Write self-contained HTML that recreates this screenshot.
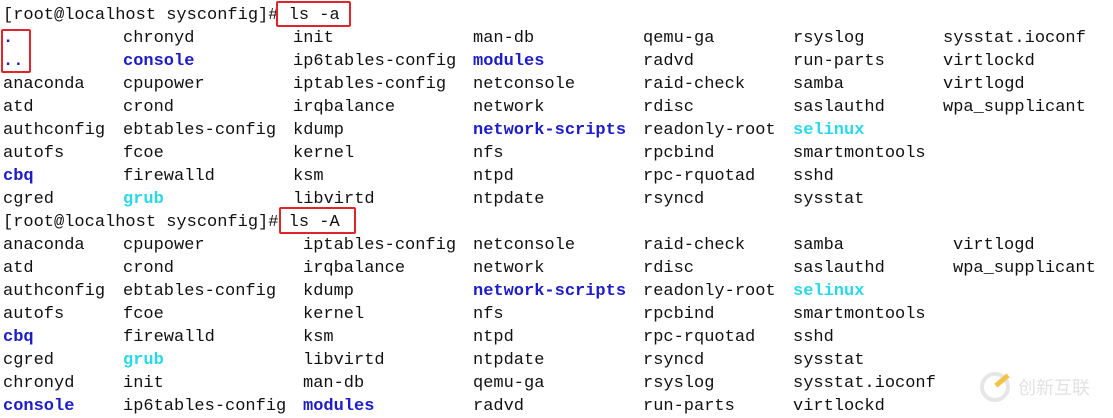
<!DOCTYPE html>
<html><head><meta charset="utf-8"><style>
body{margin:0;width:1113px;height:417px;background:#fff;overflow:hidden;position:relative;font-family:"Liberation Mono",monospace;font-size:17px;color:#111}
.r{position:absolute;left:0;height:23px;line-height:23px;white-space:pre;margin-top:2px}
.r span{position:absolute;top:0}
.b{color:#1c1cc8;font-weight:bold}
.c{color:#2ad8e8;font-weight:bold}
.box{position:absolute;border:2px solid #e0252a;border-radius:2px}
</style></head><body>
<div class="r" style="top:2px"><span style="left:3px">[root@localhost sysconfig]# ls -a</span></div>
<div class="r" style="top:25px"><span class="b" style="left:3px">.</span><span style="left:123px">chronyd</span><span style="left:293px">init</span><span style="left:473px">man-db</span><span style="left:643px">qemu-ga</span><span style="left:793px">rsyslog</span><span style="left:943px">sysstat.ioconf</span></div>
<div class="r" style="top:48px"><span class="b" style="left:3px">..</span><span class="b" style="left:123px">console</span><span style="left:293px">ip6tables-config</span><span class="b" style="left:473px">modules</span><span style="left:643px">radvd</span><span style="left:793px">run-parts</span><span style="left:943px">virtlockd</span></div>
<div class="r" style="top:71px"><span style="left:3px">anaconda</span><span style="left:123px">cpupower</span><span style="left:293px">iptables-config</span><span style="left:473px">netconsole</span><span style="left:643px">raid-check</span><span style="left:793px">samba</span><span style="left:943px">virtlogd</span></div>
<div class="r" style="top:94px"><span style="left:3px">atd</span><span style="left:123px">crond</span><span style="left:293px">irqbalance</span><span style="left:473px">network</span><span style="left:643px">rdisc</span><span style="left:793px">saslauthd</span><span style="left:943px">wpa_supplicant</span></div>
<div class="r" style="top:117px"><span style="left:3px">authconfig</span><span style="left:123px">ebtables-config</span><span style="left:293px">kdump</span><span class="b" style="left:473px">network-scripts</span><span style="left:643px">readonly-root</span><span class="c" style="left:793px">selinux</span></div>
<div class="r" style="top:140px"><span style="left:3px">autofs</span><span style="left:123px">fcoe</span><span style="left:293px">kernel</span><span style="left:473px">nfs</span><span style="left:643px">rpcbind</span><span style="left:793px">smartmontools</span></div>
<div class="r" style="top:163px"><span class="b" style="left:3px">cbq</span><span style="left:123px">firewalld</span><span style="left:293px">ksm</span><span style="left:473px">ntpd</span><span style="left:643px">rpc-rquotad</span><span style="left:793px">sshd</span></div>
<div class="r" style="top:186px"><span style="left:3px">cgred</span><span class="c" style="left:123px">grub</span><span style="left:293px">libvirtd</span><span style="left:473px">ntpdate</span><span style="left:643px">rsyncd</span><span style="left:793px">sysstat</span></div>
<div class="r" style="top:209px"><span style="left:3px">[root@localhost sysconfig]# ls -A</span></div>
<div class="r" style="top:232px"><span style="left:3px">anaconda</span><span style="left:123px">cpupower</span><span style="left:303px">iptables-config</span><span style="left:473px">netconsole</span><span style="left:643px">raid-check</span><span style="left:793px">samba</span><span style="left:953px">virtlogd</span></div>
<div class="r" style="top:255px"><span style="left:3px">atd</span><span style="left:123px">crond</span><span style="left:303px">irqbalance</span><span style="left:473px">network</span><span style="left:643px">rdisc</span><span style="left:793px">saslauthd</span><span style="left:953px">wpa_supplicant</span></div>
<div class="r" style="top:278px"><span style="left:3px">authconfig</span><span style="left:123px">ebtables-config</span><span style="left:303px">kdump</span><span class="b" style="left:473px">network-scripts</span><span style="left:643px">readonly-root</span><span class="c" style="left:793px">selinux</span></div>
<div class="r" style="top:301px"><span style="left:3px">autofs</span><span style="left:123px">fcoe</span><span style="left:303px">kernel</span><span style="left:473px">nfs</span><span style="left:643px">rpcbind</span><span style="left:793px">smartmontools</span></div>
<div class="r" style="top:324px"><span class="b" style="left:3px">cbq</span><span style="left:123px">firewalld</span><span style="left:303px">ksm</span><span style="left:473px">ntpd</span><span style="left:643px">rpc-rquotad</span><span style="left:793px">sshd</span></div>
<div class="r" style="top:347px"><span style="left:3px">cgred</span><span class="c" style="left:123px">grub</span><span style="left:303px">libvirtd</span><span style="left:473px">ntpdate</span><span style="left:643px">rsyncd</span><span style="left:793px">sysstat</span></div>
<div class="r" style="top:370px"><span style="left:3px">chronyd</span><span style="left:123px">init</span><span style="left:303px">man-db</span><span style="left:473px">qemu-ga</span><span style="left:643px">rsyslog</span><span style="left:793px">sysstat.ioconf</span></div>
<div class="r" style="top:393px"><span class="b" style="left:3px">console</span><span style="left:123px">ip6tables-config</span><span class="b" style="left:303px">modules</span><span style="left:473px">radvd</span><span style="left:643px">run-parts</span><span style="left:793px">virtlockd</span></div>
<div class="box" style="left:276px;top:1px;width:71px;height:22px"></div>
<div class="box" style="left:1px;top:29px;width:26px;height:40px"></div>
<div class="box" style="left:279px;top:207px;width:73px;height:23px"></div>
<div style="position:absolute;left:980px;top:372px;width:30px;height:30px;border-radius:50%;border:4px solid #e6e6e6;box-sizing:border-box"></div>
<div style="position:absolute;left:994px;top:378px;width:16px;height:5px;background:#f3c24a;transform:rotate(-40deg)"></div>
<div style="position:absolute;left:1018px;top:376px;font-family:'Noto Sans CJK SC',sans-serif;font-size:18px;color:#e2e2e2;line-height:22px">创新互联</div>
</body></html>
